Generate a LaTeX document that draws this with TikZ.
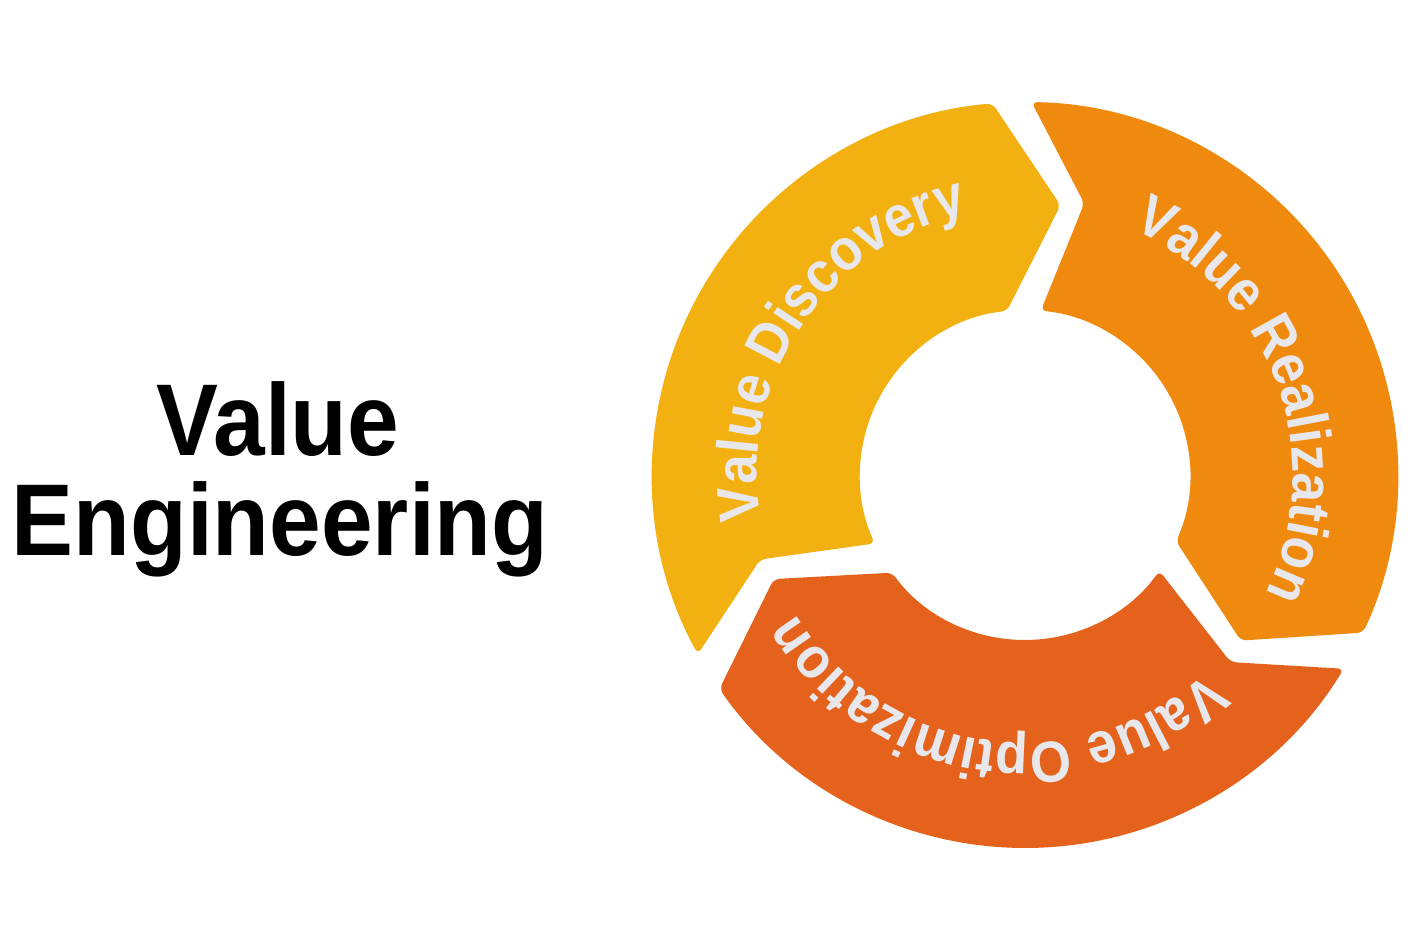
\documentclass[tikz,border=0pt]{standalone}
\usepackage{fontspec}
\setmainfont{Liberation Sans}
\newfontfamily\vefont[FakeStretch=0.91]{Liberation Sans}
\usetikzlibrary{decorations.text}
\definecolor{cyel}{HTML}{F2B111}
\definecolor{corg}{HTML}{F08A0F}
\definecolor{cred}{HTML}{E4621B}
\definecolor{ctxt}{HTML}{E8E8EC}
\newcommand\segfont{\vefont\bfseries\fontsize{29pt}{31pt}\selectfont}
\begin{document}
\begin{tikzpicture}[x=0.5pt,y=0.5pt,
  seg/.style={rounded corners=3pt},
  titletext/.style={anchor=base, inner sep=0pt, font=\vefont\bfseries\fontsize{51pt}{56pt}\selectfont},
  ringtext/.style={decorate, decoration={text along path, text align=center,
    text format delimiters={|}{|}, text color=ctxt, text={|\segfont|#1}}}]
\useasboundingbox (0,0) rectangle (1425,950);
% title
\node[titletext] (t1) at (278,495) {Value};
\node[titletext] (t2) at (280,395) {Engineering};
\begin{scope}[shift={(1025,475)}]
% yellow: Value Discovery
\fill[cyel, seg] (208.7:373) arc[start angle=208.7, end angle=95, radius=373]
  -- (82.5:272) -- (96.3:165) arc[start angle=96.3, end angle=204.5, radius=165]
  -- (197.7:278) -- cycle;
% orange: Value Realization
\fill[corg, seg] (89:373) arc[start angle=89, end angle=-25, radius=373]
  -- (-37.5:272) -- (-23.7:165) arc[start angle=-23.7, end angle=84.5, radius=165]
  -- (77.7:278) -- cycle;
% red: Value Optimization
\fill[cred, seg] (-31.3:373) arc[start angle=-31.3, end angle=-145, radius=373]
  -- (-157.5:272) -- (-143.7:165) arc[start angle=-143.7, end angle=-35.5, radius=165]
  -- (-42.3:278) -- cycle;
% texts
\path[ringtext={Value Discovery}] (206:268) arc[start angle=206, end angle=86, radius=268];
\path[ringtext={Value Realization}] (80:268) arc[start angle=80, end angle=-40, radius=268];
\path[ringtext={Value Optimization}] (-38:268) arc[start angle=-38, end angle=-158, radius=268];
\end{scope}
\end{tikzpicture}
\end{document}
